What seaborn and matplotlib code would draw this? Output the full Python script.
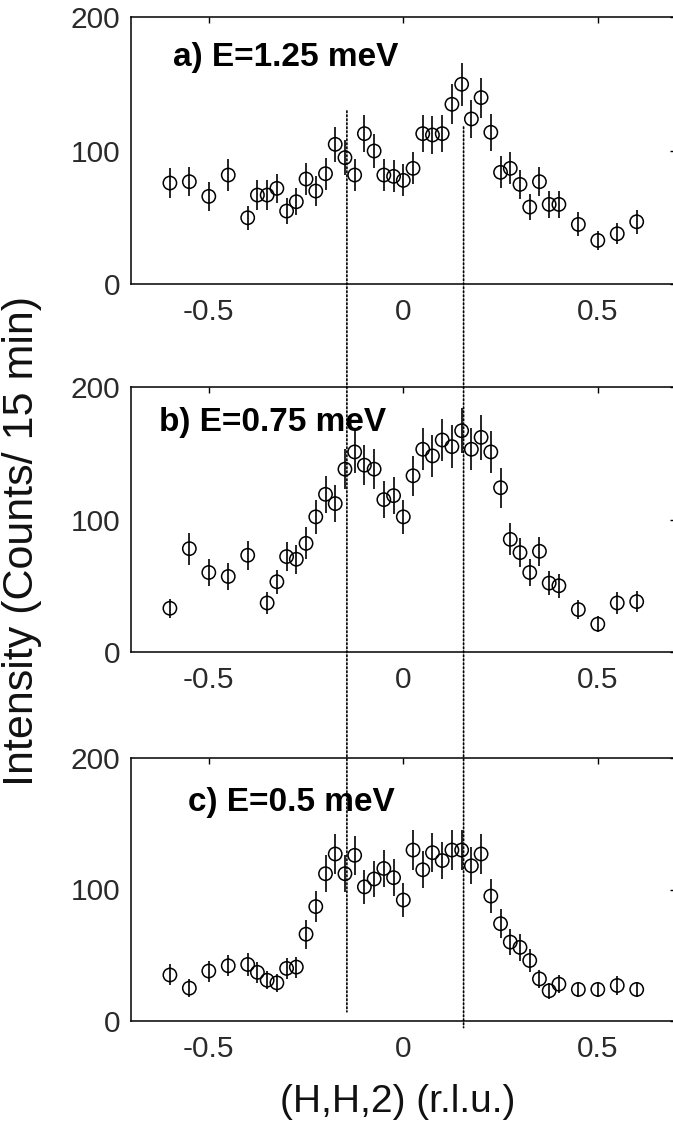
import numpy as np
import pandas as pd
import matplotlib
matplotlib.use("Agg")
import matplotlib.pyplot as plt
from matplotlib.patches import ConnectionPatch
import seaborn as sns

# ---------------- data ----------------
h_a = [-0.6, -0.55, -0.5, -0.45, -0.4, -0.375, -0.35, -0.325, -0.3, -0.275, -0.25, -0.225, -0.2,
       -0.175, -0.15, -0.125, -0.1, -0.075, -0.05, -0.025, 0.0, 0.025, 0.05, 0.075, 0.1, 0.125,
       0.15, 0.175, 0.2, 0.225, 0.25, 0.275, 0.3, 0.325, 0.35, 0.375, 0.4, 0.45, 0.5, 0.55, 0.6]
i_a = [76, 77, 66, 82, 50, 67, 67, 72, 55, 62, 79, 70, 83,
       105, 95, 82, 113, 100, 82, 81, 78, 87, 113, 112, 113, 135,
       150, 124, 140, 114, 84, 87, 75, 58, 77, 60, 60, 45, 33, 38, 47]
e_a = [11, 11, 11, 12, 9, 11, 11, 11, 10, 10, 12, 11, 12,
       13, 13, 12, 14, 13, 12, 12, 12, 12, 14, 14, 14, 15,
       16, 14, 15, 14, 12, 12, 11, 10, 11, 10, 10, 9, 7, 8, 9]

h_b = [-0.6, -0.55, -0.5, -0.45, -0.4, -0.35, -0.325, -0.3, -0.275, -0.25, -0.225, -0.2,
       -0.175, -0.15, -0.125, -0.1, -0.075, -0.05, -0.025, 0.0, 0.025, 0.05, 0.075, 0.1, 0.125,
       0.15, 0.175, 0.2, 0.225, 0.25, 0.275, 0.3, 0.325, 0.35, 0.375, 0.4, 0.45, 0.5, 0.55, 0.6]
i_b = [33, 78, 60, 57, 73, 37, 53, 72, 70, 82, 102, 119,
       112, 138, 151, 141, 138, 115, 118, 102, 133, 153, 148, 160, 155,
       167, 153, 162, 151, 124, 85, 75, 60, 76, 52, 50, 32, 21, 37, 38]
e_b = [7, 12, 10, 10, 11, 8, 9, 11, 11, 12, 13, 14,
       14, 15, 16, 15, 15, 14, 14, 13, 15, 16, 16, 16, 16,
       17, 16, 17, 16, 15, 12, 11, 10, 11, 9, 9, 7, 6, 8, 8]

h_c = [-0.6, -0.55, -0.5, -0.45, -0.4, -0.375, -0.35, -0.325, -0.3, -0.275, -0.25, -0.225, -0.2,
       -0.175, -0.15, -0.125, -0.1, -0.075, -0.05, -0.025, 0.0, 0.025, 0.05, 0.075, 0.1, 0.125,
       0.15, 0.175, 0.2, 0.225, 0.25, 0.275, 0.3, 0.325, 0.35, 0.375, 0.4, 0.45, 0.5, 0.55, 0.6]
i_c = [35, 25, 38, 42, 43, 37, 31, 29, 40, 41, 66, 87, 112,
       127, 112, 126, 102, 108, 116, 109, 92, 130, 115, 128, 122, 130,
       130, 118, 127, 95, 74, 60, 56, 46, 32, 23, 28, 24, 24, 27, 24]
e_c = [8, 7, 8, 8, 9, 8, 7, 7, 8, 8, 11, 12, 14,
       15, 14, 15, 13, 14, 14, 14, 13, 15, 14, 15, 14, 15,
       15, 14, 15, 13, 11, 10, 10, 9, 7, 6, 7, 6, 6, 7, 6]

panel_titles = ["a) E=1.25 meV", "b) E=0.75 meV", "c) E=0.5 meV"]
title_pos = [(-0.593, 170), (-0.628, 173), (-0.553, 166)]
x_ticks = [-0.5, 0.0, 0.5]
x_ticklabels = ["-0.5", "0", "0.5"]
y_ticks = [0, 100, 200]
y_ticklabels = ["0", "100", "200"]
guide_h = [-0.145, 0.155]
guide_top = [130, 118]      # intensity in panel a where guides start
guide_bottom = [7, -5]      # intensity in panel c where guides end
xlabel = "(H,H,2) (r.l.u.)"
ylabel = "Intensity (Counts/ 15 min)"

# ---------------- style ----------------
sns.set_style("white")
plt.rcParams["font.family"] = ["Liberation Sans", "DejaVu Sans"]
plt.rcParams["axes.unicode_minus"] = False

W, H = 673, 1123
fig = plt.figure(figsize=(W / 100, H / 100), dpi=100)
fig.patch.set_facecolor("white")

def frac_rect(left_px, top_px, width_px, bottom_px):
    return [left_px / W, 1 - bottom_px / H, width_px / W, (bottom_px - top_px) / H]

rects = [frac_rect(131, 17.5, 544.6, 284.5),
         frac_rect(131, 387, 544.6, 652),
         frac_rect(131, 758, 544.6, 1021)]

datasets = [(h_a, i_a, e_a), (h_b, i_b, e_b), (h_c, i_c, e_c)]
axes = []
for k, (rect, (hh, ii, ee)) in enumerate(zip(rects, datasets)):
    ax = fig.add_axes(rect)
    df = pd.DataFrame({"h": hh, "I": ii, "err": ee})
    ax.errorbar(df["h"], df["I"], yerr=df["err"], fmt="none", ecolor="black",
                elinewidth=1.2, capsize=0, zorder=2)
    sns.scatterplot(data=df, x="h", y="I", ax=ax, marker="o", s=92,
                    facecolor="none", edgecolor="black", linewidth=1.1, zorder=3)
    ax.set_xlim(-0.7, 0.7)
    ax.set_ylim(0, 200)
    ax.set_xticks(x_ticks)
    ax.set_xticklabels(x_ticklabels)
    ax.set_yticks(y_ticks)
    ax.set_yticklabels(y_ticklabels)
    ax.set_xlabel("")
    ax.set_ylabel("")
    ax.tick_params(direction="in", length=4, width=1, top=True, right=True,
                   labelsize=21.5, labelcolor="#2a2a2a", colors="black")
    ax.tick_params(axis="x", pad=10)
    ax.tick_params(axis="y", pad=8)
    for sp in ax.spines.values():
        sp.set_visible(True)
        sp.set_color("black")
        sp.set_linewidth(1.1)
    tx, ty = title_pos[k]
    ax.text(tx, ty, panel_titles[k], fontsize=24, fontweight="bold",
            ha="left", va="center", color="black")
    axes.append(ax)

# dotted guide lines running through all three panels
for xg, yt, yb in zip(guide_h, guide_top, guide_bottom):
    con = ConnectionPatch(xyA=(xg, yt), coordsA=axes[0].transData,
                          xyB=(xg, yb), coordsB=axes[2].transData,
                          linestyle=(0, (1, 1.4)), linewidth=1.2, color="black")
    fig.add_artist(con)

fig.text(22 / W, 1 - 541 / H, ylabel, rotation=90, ha="center", va="center",
         fontsize=31, color="#111111")
fig.text(398 / W, 1 - 1102 / H, xlabel, ha="center", va="center",
         fontsize=28, color="#111111")

fig.savefig("out.png", dpi=100, facecolor="white")
